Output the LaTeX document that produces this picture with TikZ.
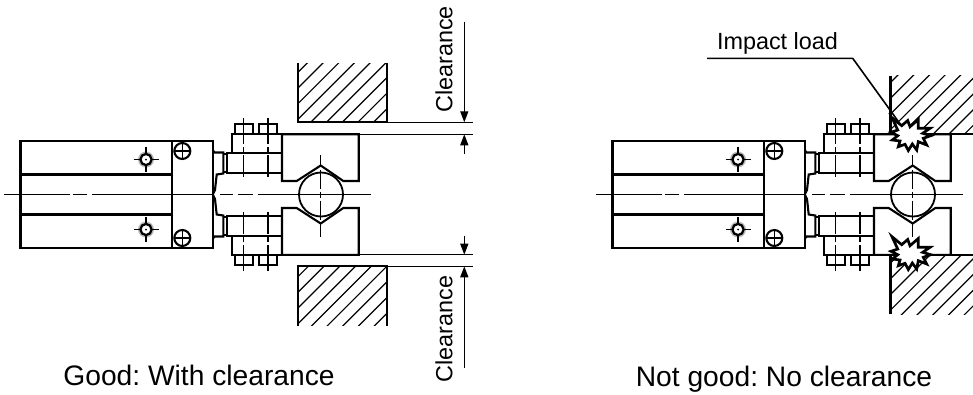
\documentclass[tikz,border=0pt]{standalone}
\usepackage{fontspec}
\setmainfont{Liberation Sans}
\usetikzlibrary{arrows.meta}
\frenchspacing
\tikzset{
	partline/.style={line width=2.1pt,line join=miter},
	thinline/.style={line width=1.3pt},
	hatchline/.style={line width=1.2pt},
	centerline/.style={line width=1.3pt},
	bolt/.style={line width=1.3pt,dash pattern=on 26pt off 3pt on 5pt off 3pt},
	dimline/.style={line width=1.3pt,-{Triangle[length=11pt,width=8pt]}},
	label/.style={inner sep=0pt,font=\fontsize{23.4}{24}\selectfont},
	caption/.style={inner sep=0pt,font=\fontsize{28.2}{29}\selectfont},
	burst/.style={line width=2.7pt,fill=white,miter limit=20}
}
\newcommand{\burstshape}{(-18,-17.3)--(-8.3,-9.3)--(-2.3,-14.5)--(0,-8.3)--(8.3,-15.5)--(8.3,-6.7)--(20,-6.7)--(12.7,-1.7)--(20.7,0.7)--(13.3,3.3)--(16.7,10)--(8.3,6.7)--(6.7,15)--(2.3,9)--(-1.7,15.5)--(-5,9.3)--(-11.7,11.7)--(-10,6)--(-17.7,5)--(-12.3,0.7)--(-19,-2.7)--(-12.3,-5)--cycle}
\begin{document}
\begin{tikzpicture}[x=1pt,y=-1pt]
	\useasboundingbox (0,0) rectangle (973,394);

	% the two clamps
	\foreach \dx in {0,592}{
		\begin{scope}[shift={(\dx,194.5)}]
			\draw[centerline] (4,0)--(70,0) (73,0)--(87,0) (91.5,0)--(212,0) (220,0)--(233,0) (238,0)--(253,0) (258,0)--(371,0);
			\draw[partline] (20.5,-53.5)rectangle(212.7,53.5);
			\draw[partline] (171.7,-53.5)--(171.7,53.5);
			\draw[centerline] (320.7,-39.5)--(320.7,-28) (320.7,-25)--(320.7,-6) (320.7,-3)--(320.7,3) (320.7,6)--(320.7,25) (320.7,28)--(320.7,42.5);
			\draw[line width=1.8pt] (321,0) circle [radius=22];
			\foreach \ys in {1,-1}{
				\begin{scope}[yscale=\ys]
					\draw[partline] (20.5,-20)--(171.7,-20);
					\draw[partline] (182.3,-43.5) circle [radius=8];
					\draw[thinline,line width=1.6pt] (174.3,-43.5)--(190.3,-43.5) (182.3,-51.5)--(182.3,-35.5);
					% mounting hole
					\draw[gray!55,line width=1.4pt] (146,-35) circle [radius=7.3];
					\draw[line width=2.3pt] (146,-35) circle [radius=5.6];
					\draw[thinline] (133.5,-35)--(140,-35) (152,-35)--(158.5,-35) (146,-47.5)--(146,-41) (146,-29)--(146,-22.5);
					\fill (146,-35) circle [radius=1];
					% steps and rod
					\draw[partline] (212.7,-44.5)--(214.5,-42)--(223.3,-42)--(223.3,-21)--(216.7,-20)--(215,-4.5)--(212.7,0);
					\draw[partline] (226.7,-41.8)rectangle(282,-21.8);
					\draw[partline] (223.3,-40.5)--(226.7,-40.5) (223.3,-22.5)--(226.7,-22.5);
					\draw[partline] (232,-41.8)--(232,-60.3)--(282,-60.3);
					\draw[partline] (234.7,-60.3)--(234.7,-70.5)--(252.7,-70.5)--(252.7,-60.3);
					\draw[partline] (258.7,-60.3)--(258.7,-70.5)--(277,-70.5)--(277,-60.3);
					\draw[bolt] (243.3,-76.5)--(243.3,-17.5);
					\draw[bolt] (268,-76.5)--(268,-17.5);
					% jaw
					\draw[partline] (282,-60.3)--(358.7,-60.3)--(358.7,-13.5)--(343.3,-13.5)--(320.7,-29)--(296.7,-13.5)--(282,-13.5)--cycle;
				\end{scope}
			}
		\end{scope}
	}

	% work, left side
	\begin{scope}
		\clip (298.3,63.3)rectangle(386.7,122.3);
		\foreach \c in {354.5,370.2,...,510}{\draw[hatchline] (\c,0)--(\c-400,400);}
	\end{scope}
	\draw[partline] (298.3,63.3)--(298.3,122.3)--(386.7,122.3)--(386.7,63.3);
	\begin{scope}
		\clip (298.3,266.3)rectangle(386.7,325.7);
		\foreach \c in {558.9,574.6,...,715}{\draw[hatchline] (\c,0)--(\c-400,400);}
	\end{scope}
	\draw[partline] (298.3,325.7)--(298.3,266.3)--(386.7,266.3)--(386.7,325.7);

	% work, right side
	\begin{scope}
		\clip (890.5,75.7)rectangle(973,134.3);
		\foreach \c in {957.3,973,...,1110}{\draw[hatchline] (\c,0)--(\c-400,400);}
	\end{scope}
	\draw[partline] (890.5,75.7)--(890.5,134.3)--(973,134.3);
	\begin{scope}
		\clip (890.5,254.7)rectangle(973,314);
		\foreach \c in {1137.8,1153.5,...,1290}{\draw[hatchline] (\c,0)--(\c-400,400);}
	\end{scope}
	\draw[partline] (890.5,314)--(890.5,254.7)--(973,254.7);

	% clearance dimensions
	\coordinate (upperA) at (464.3,21.7);
	\coordinate (upperB) at (464.3,122.3);
	\coordinate (upperC) at (464.3,154);
	\coordinate (upperD) at (464.3,134.3);
	\coordinate (lowerA) at (464.3,235.7);
	\coordinate (lowerB) at (464.3,254.7);
	\coordinate (lowerC) at (464.3,367.7);
	\coordinate (lowerD) at (464.3,266.3);
	\draw[thinline] (386.7,122.3)--(472.7,122.3) (360,134.3)--(472.7,134.3);
	\draw[thinline] (360,254.7)--(472.7,254.7) (386.7,266.3)--(472.7,266.3);
	\draw[dimline] (upperA)--(upperB);
	\draw[dimline] (upperC)--(upperD);
	\draw[dimline] (lowerA)--(lowerB);
	\draw[dimline] (lowerC)--(lowerD);
	\node[label,rotate=90] (clearanceUpper) at (444,59.5) {Clearance};
	\node[label,rotate=90] (clearanceLower) at (444,329) {Clearance};

	% impact
	\coordinate (leaderA) at (707,58.3);
	\coordinate (leaderB) at (852.7,58.3);
	\coordinate (leaderC) at (903,128);
	\draw[line width=1.6pt] (leaderA)--(leaderB)--(leaderC);
	\node[label] (impactText) at (777.5,43.5) {Impact load};
	\draw[burst,shift={(910,135)}] \burstshape;
	\draw[burst,shift={(910,254)}] \burstshape;

	\node[caption] (goodText) at (199,375) {Good: With clearance};
	\node[caption] (badText) at (784,379) {Not good: No clearance};
\end{tikzpicture}
\end{document}
